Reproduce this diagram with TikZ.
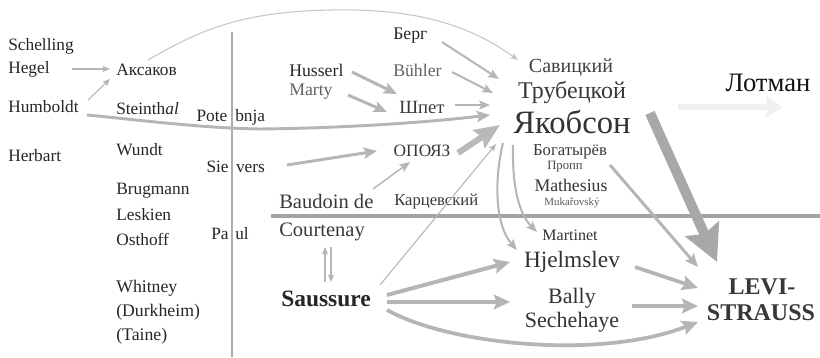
\documentclass[tikz,border=0pt]{standalone}
\usepackage{fontspec}
\setmainfont{Liberation Serif}
\usetikzlibrary{arrows.meta,calc}
\newcommand\fsz[1]{\fontsize{#1}{#1}\selectfont}
\begin{document}
\begin{tikzpicture}[x=0.75pt,y=-0.75pt,
  lbl/.style={inner sep=0pt, text=black!85, font=\fsz{13}},
  lgray/.style={lbl, text=black!62},
  thinA/.style={draw=gray!58, line width=0.8pt, -{Stealth[length=5.5pt,width=4.5pt,inset=1pt]}},
  medA/.style={draw=gray!58, line width=1.5pt, -{Stealth[length=8pt,width=6.5pt,inset=1.5pt]}},
  thkA/.style={draw=gray!58, line width=2.2pt, -{Stealth[length=10pt,width=8.5pt,inset=2pt]}},
  hvyA/.style={draw=gray!58, line width=2.8pt, -{Stealth[length=12pt,width=11pt,inset=2pt]}},
  opoA/.style={draw=gray!55, line width=4.5pt, -{Stealth[length=19pt,width=16pt,inset=3pt]}},
  bigA/.style={draw=gray!68, line width=7.5pt, -{Stealth[length=27pt,width=27pt,inset=4pt]}},
  lotA/.style={draw=gray!12, line width=4.5pt, -{Stealth[length=13pt,width=16pt,inset=2pt]}},
  divider/.style={draw=gray!65}
]
\useasboundingbox (0,0) rectangle (820,357);

% left column
\node[lbl, anchor=west] (schelling) at (8,46) {Schelling};
\node[lbl, anchor=west] (hegel) at (8,69) {Hegel};
\node[lbl, anchor=west] (humboldt) at (8,107) {Humboldt};
\node[lbl, anchor=west] (herbart) at (8,156) {Herbart};

\node[lbl, anchor=west] (aks) at (116,70) {Аксаков};
\node[lbl, anchor=west] (stein) at (116,109) {Steinth\textit{al}};
\node[lbl, anchor=west] (wundt) at (116,150) {Wundt};
\node[lbl, anchor=west] (brug) at (116,191) {Brugmann};
\node[lbl, anchor=west] (lesk) at (116,215) {Leskien};
\node[lbl, anchor=west] (osth) at (116,239) {Osthoff};
\node[lbl, anchor=west, font=\fsz{13.3}] (whit) at (116,288) {Whitney};
\node[lbl, anchor=west, font=\fsz{13.3}] (durk) at (116,312) {(Durkheim)};
\node[lbl, anchor=west, font=\fsz{13.3}] (taine) at (116,336) {(Taine)};

\node[lbl] (pot) at (232,117) {\llap{Pote\hspace{3.5pt}}\rlap{\hspace{2.5pt}bnja}};
\node[lbl] (siev) at (232,167) {\llap{Sie\hspace{2.5pt}}\rlap{\hspace{3pt}vers}};
\node[lbl] (paul) at (232,234) {\llap{Pa\hspace{2.5pt}}\rlap{\hspace{2.5pt}ul}};

% middle
\node[lbl, anchor=west, font=\fsz{13.3}] (huss) at (289,70) {Husserl};
\node[lgray, anchor=west, font=\fsz{13.3}] (marty) at (289,92) {Marty};
\node[lbl, anchor=west, font=\fsz{13.3}] (berg) at (393,36) {Берг};
\node[lgray, anchor=west, font=\fsz{13.3}] (buhl) at (393,70) {Bühler};
\node[lbl, text=black!78, font=\fsz{14}] (shpet) at (422,107) {Шпет};
\node[lbl, text=black!78] (opoyaz) at (422,151) {ОПОЯЗ};
\node[lbl, anchor=west, text=black!78, font=\fsz{15.4}] (baud) at (279,201) {Baudoin de};
\node[lbl, anchor=west, text=black!78, font=\fsz{12.5}] (karc) at (394,202) {Карцевский};
\node[lbl, anchor=west, text=black!78, font=\fsz{15.4}] (court) at (279,232) {Courtenay};
\node[lbl, anchor=west, font=\fsz{17.6}\bfseries] (sauss) at (281,299) {Saussure};

% right cluster
\node[lbl, text=black!75, font=\fsz{15}] (savi) at (571,68) {Савицкий};
\node[lbl, text=black!78, font=\fsz{18}] (trub) at (572,92) {Трубецкой};
\node[lbl, text=black!80, font=\fsz{24.5}] (jak) at (572,122) {Якобсон};
\node[lbl, text=black!92, font=\fsz{20}] (lotman) at (768,83) {Лотман};
\node[lbl, text=black!78, font=\fsz{12.5}] (bog) at (570,152) {Богатырёв};
\node[lbl, text=black!72, font=\fsz{9.5}] (propp) at (565,167) {Пропп};
\node[lbl, text=black!80, font=\fsz{13.3}] (math) at (571,185) {Mathesius};
\node[lbl, text=black!65, font=\fsz{8.2}] (muk) at (572,203) {Mukařovský};
\node[lbl, text=black!80, font=\fsz{12}] (mart) at (570,235) {Martinet};
\node[lbl, text=black!80, font=\fsz{17.5}] (hjel) at (572,262) {Hjelmslev};
\node[lbl, text=black!80, font=\fsz{16.5}] (bally) at (572,298) {Bally};
\node[lbl, text=black!80, font=\fsz{16.5}] (sech) at (572,322) {Sechehaye};
\node[lbl, text=black!78, font=\fsz{18}\bfseries] (levi) at (762,287) {LEVI-};
\node[lbl, text=black!78, font=\fsz{18}\bfseries] (strauss) at (761,313) {STRAUSS};

% dividers
\draw[divider, line width=1.1pt] ($(pot.center)+(0,-85)$) -- ($(pot.center)+(0,240)$);
\draw[divider, draw=gray!72, line width=2.6pt] ($(baud.west)+(-8,15)$) -- ($(baud.west)+(541,15)$);

% connectors
\draw[thinA] ($(hegel.west)+(64,0)$) -- ($(aks.west)+(-6,-1)$);
\draw[thinA] ($(humboldt.west)+(80,-7)$) -- ($(aks.west)+(-6,9)$);
\draw[thinA, draw=gray!45] ($(aks.west)+(32,-10)$) .. controls (200,30) and (240,12) .. (330,10)
   .. controls (420,8) and (472,27) .. ($(savi.center)+(-53,-8)$);
\draw[thkA] ($(humboldt.west)+(79,8)$) .. controls (140,120) and (200,128) .. (260,129)
   .. controls (350,128) and (430,122) .. ($(jak.center)+(-82,-7)$);
\draw[thkA] ($(huss.west)+(63,2)$) -- ($(shpet.center)+(-25,-13)$);
\draw[thkA] ($(marty.west)+(59,3)$) -- ($(shpet.center)+(-35,5)$);
\draw[medA] ($(berg.west)+(49,6)$) -- ($(trub.center)+(-73,-13)$);
\draw[medA] ($(buhl.west)+(59,2)$) -- ($(trub.center)+(-79,1)$);
\draw[medA] ($(shpet.center)+(33,-2)$) -- ($(jak.center)+(-82,-17)$);
\draw[opoA] ($(opoyaz.center)+(36,2)$) -- ($(jak.center)+(-72,3)$);
\draw[thkA] ($(siev.center)+(55,-2)$) -- ($(opoyaz.center)+(-45,0)$);
\draw[medA, line width=1.1pt] ($(baud.west)+(94,-12)$) -- ($(opoyaz.center)+(-12,11)$);
\draw[thinA] ($(sauss.west)+(99,-14)$) -- ($(jak.center)+(-76,22)$);
\draw[medA] ($(jak.center)+(-69,21)$) .. controls (494,180) and (495,225) .. ($(hjel.center)+(-55,-12)$);
\draw[medA] ($(jak.center)+(-59,23)$) .. controls (512,190) and (520,215) .. ($(mart.center)+(-33,-3)$);
\draw[thkA] ($(propp.center)+(45,-2)$) -- ($(levi.center)+(-64,-20)$);
\draw[bigA] ($(jak.center)+(78,-9)$) -- ($(levi.center)+(-45,-25)$);
\draw[lotA] ($(lotman.center)+(-90,24)$) -- ($(lotman.center)+(15,24)$);
\draw[hvyA] ($(hjel.center)+(63,5)$) -- ($(levi.center)+(-64,1)$);
\draw[hvyA] ($(bally.center)+(60,8)$) -- ($(levi.center)+(-64,19)$);
\draw[hvyA] ($(sauss.west)+(106,11)$) .. controls (450,345) and (600,360) .. ($(levi.center)+(-64,35)$);
\draw[hvyA, line width=3pt] ($(sauss.west)+(106,-4)$) -- ($(hjel.center)+(-62,0)$);
\draw[hvyA, line width=3pt] ($(sauss.west)+(106,3)$) -- ($(bally.center)+(-62,4)$);
\draw[thinA] ($(sauss.west)+(44,-17)$) -- ($(court.west)+(46,15)$);
\draw[thinA] ($(court.west)+(52,15)$) -- ($(sauss.west)+(50,-17)$);
\end{tikzpicture}
\end{document}
